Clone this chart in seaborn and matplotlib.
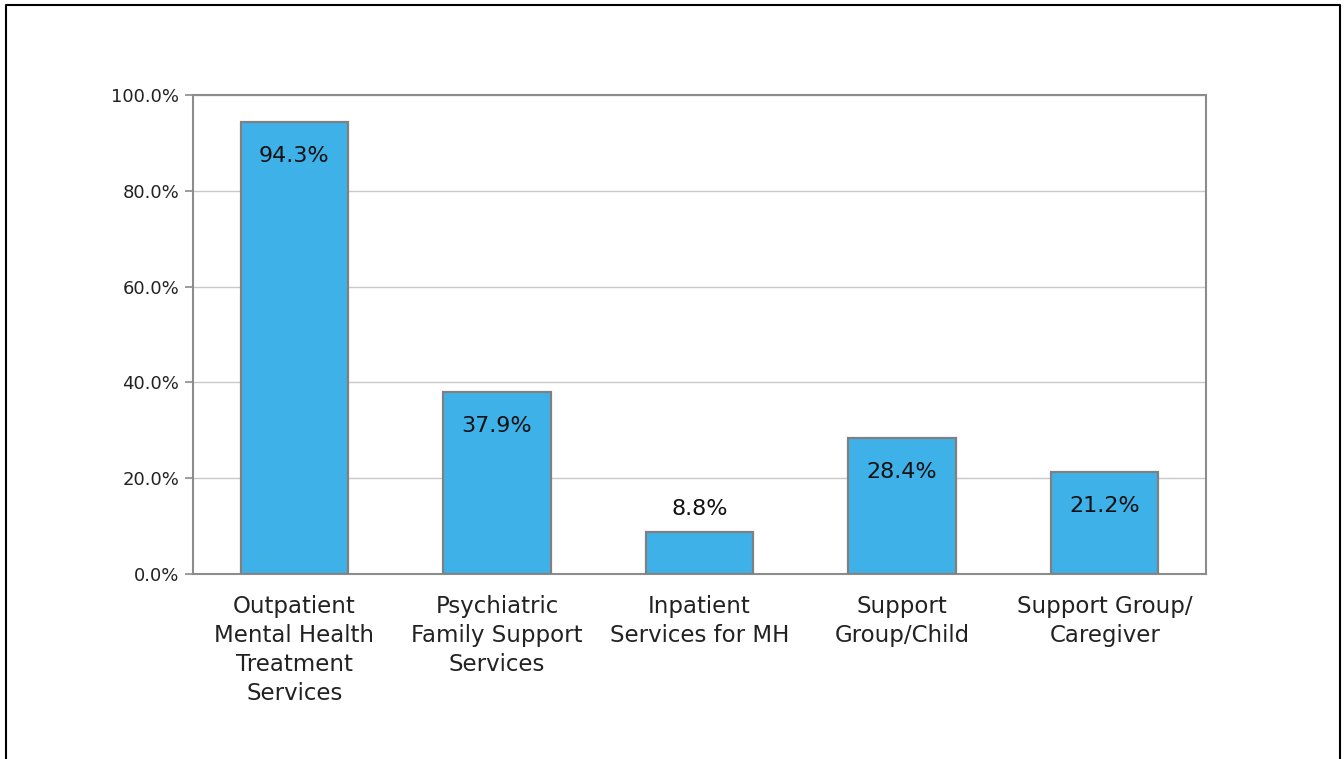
import matplotlib
matplotlib.use("Agg")
import matplotlib.pyplot as plt
import seaborn as sns
import pandas as pd
from matplotlib.lines import Line2D
from matplotlib.ticker import FuncFormatter, FixedLocator

categories = ["Outpatient\nMental Health\nTreatment\nServices",
              "Psychiatric\nFamily Support\nServices",
              "Inpatient\nServices for MH",
              "Support\nGroup/Child",
              "Support Group/\nCaregiver"]
values = [94.3, 37.9, 8.8, 28.4, 21.2]
value_labels = ["94.3%", "37.9%", "8.8%", "28.4%", "21.2%"]
y_ticks = [0, 20, 40, 60, 80, 100]

sns.set_theme(style="white")
plt.rcParams['font.family'] = ['DejaVu Sans']

W, H = 1344, 759
fig = plt.figure(figsize=(W / 100, H / 100), dpi=100)
ax = fig.add_axes([193 / W, 1 - 574 / H, (1206 - 193) / W, (574 - 95) / H])

df = pd.DataFrame({"cat": categories, "val": values})
sns.barplot(data=df, x="cat", y="val", ax=ax, color="#3DB1E8", saturation=1,
            width=0.53, edgecolor="#808080", linewidth=1.6, zorder=3)

ax.set_ylim(0, 100)
ax.set_xlim(-0.5, len(categories) - 0.5)
ax.yaxis.set_major_locator(FixedLocator(y_ticks))
ax.yaxis.set_major_formatter(FuncFormatter(lambda v, p: f"{v:.1f}%"))
ax.grid(axis="y", color="#C8C8C8", linewidth=1, zorder=0)
ax.set_axisbelow(True)
for s in ["left", "right", "top", "bottom"]:
    ax.spines[s].set_visible(True)
    ax.spines[s].set_color("#8C8C8C")
    ax.spines[s].set_linewidth(1.5)
ax.tick_params(axis="y", which="major", left=True, length=6, width=1.2,
               color="#8C8C8C", labelsize=13, labelcolor="#222222", pad=4)
ax.tick_params(axis="x", bottom=False, labelsize=16.5, labelcolor="#222222", pad=9)
ax.set_xlabel("")
ax.set_ylabel("")
for lbl in ax.get_xticklabels():
    lbl.set_linespacing(1.34)

for i, (v, t) in enumerate(zip(values, value_labels)):
    if v > 15:
        ax.annotate(t, (i, v), xytext=(0, -34), textcoords="offset pixels",
                    ha="center", va="center", fontsize=16, color="#111111", zorder=5)
    else:
        ax.annotate(t, (i, v), xytext=(0, 23), textcoords="offset pixels",
                    ha="center", va="center", fontsize=16, color="#111111", zorder=5)

# outer border (left, top, right)
def fx(x):
    return x / W
def fy(y):
    return 1 - y / H
fig.add_artist(Line2D([fx(6), fx(6), fx(1340), fx(1340)],
                      [fy(770), fy(5), fy(5), fy(770)],
                      color="black", linewidth=1.5, transform=fig.transFigure))

fig.savefig("out.png", dpi=100, facecolor="white")
